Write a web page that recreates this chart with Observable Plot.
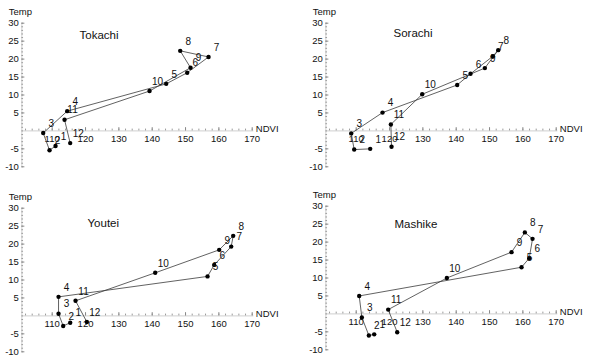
<!DOCTYPE html>
<html>
<head>
<meta charset="utf-8">
<script src="https://cdn.jsdelivr.net/npm/d3@7"></script>
<script src="https://cdn.jsdelivr.net/npm/@observablehq/plot@0.6"></script>
<style>
  html, body { margin: 0; padding: 0; background: #fff; }
  #chart { position: relative; width: 593px; height: 362px; overflow: hidden; }
  #chart svg { position: absolute; overflow: visible; }
</style>
</head>
<body>
<div id="chart"></div>
<script>
// ---- data ----
const months = [1, 2, 3, 4, 5, 6, 7, 8, 9, 10, 11, 12];

const tokachiNDVI = [111.0, 109.2, 107.3, 114.5, 144.2, 150.5, 156.9, 148.4, 151.5, 139.2, 113.7, 115.4];
const tokachiTemp = [-4.2, -5.4, -0.6, 5.5, 13.1, 16.2, 20.6, 22.3, 17.6, 11.1, 3.1, -3.4];

const sorachiNDVI = [114.2, 109.4, 108.5, 117.9, 140.3, 144.3, 151.0, 152.6, 148.6, 129.8, 120.4, 120.6];
const sorachiTemp = [-5.0, -5.2, -0.7, 5.1, 12.8, 15.9, 20.8, 22.5, 17.5, 10.2, 1.8, -4.4];

const youteiNDVI = [115.4, 113.3, 111.9, 111.9, 156.6, 158.6, 163.7, 164.3, 160.1, 140.9, 117.0, 120.4];
const youteiTemp = [-1.9, -2.8, 0.6, 5.3, 11.0, 14.2, 19.3, 22.3, 18.4, 12.0, 4.2, -1.7];

const mashikeNDVI = [115.4, 113.8, 111.7, 110.9, 159.6, 161.9, 162.9, 160.6, 156.6, 137.2, 119.6, 122.3];
const mashikeTemp = [-5.7, -6.0, -1.0, 5.0, 13.0, 15.5, 20.9, 22.7, 17.2, 10.0, 1.2, -5.1];

const regions = ["Tokachi", "Sorachi", "Youtei", "Mashike"];
const xTickLabels = [110, 120, 130, 140, 150, 160, 170];
const yTickLabels = [-10, -5, 5, 10, 15, 20, 25, 30];
const xAxisLabel = "NDVI";
const yAxisLabel = "Temp";

// ---- layout / style ----
const X0 = 100.9, XEND = 170.5;
const xMinor = d3.range(102, 171, 2);
const yMinor = d3.range(-10, 31, 1);
const font = "'Liberation Sans', Arial, sans-serif";

const panels = [
  {name: regions[0], ndvi: tokachiNDVI, temp: tokachiTemp, left: 0,   top: 0,   tx: 79, ty: 35},
  {name: regions[1], ndvi: sorachiNDVI, temp: sorachiTemp, left: 304, top: 0,   tx: 89, ty: 33},
  {name: regions[2], ndvi: youteiNDVI,  temp: youteiTemp,  left: 0,   top: 185, tx: 87, ty: 38},
  {name: regions[3], ndvi: mashikeNDVI, temp: mashikeTemp, left: 304, top: 183, tx: 90, ty: 41}
];

const chart = document.getElementById("chart");

for (const p of panels) {
  const data = months.map((m, i) => ({month: m, ndvi: p.ndvi[i], temp: p.temp[i]}));
  const svg = Plot.plot({
    width: 296,
    height: 181,
    marginTop: 0, marginRight: 0, marginBottom: 0, marginLeft: 0,
    style: {fontFamily: font, fontSize: "9.5px", color: "#222", background: "transparent"},
    x: {domain: [110, 170], range: [51.7, 251.7], axis: null},
    y: {domain: [-10, 30], range: [166.3, 22.7], axis: null},
    marks: [
      // axes lines
      Plot.ruleY([0], {x1: X0, x2: XEND, stroke: "#cfcfcf", strokeWidth: 1}),
      Plot.ruleX([X0], {y1: -10, y2: 30, stroke: "#cfcfcf", strokeWidth: 1}),
      // minor ticks
      Plot.ruleX(xMinor, {x: d => d, y1: 0, y2: 0.5, stroke: "#9a9a9a", strokeWidth: 1}),
      Plot.ruleY(yMinor, {y: d => d, x1: X0, x2: X0 + 0.5, stroke: "#9a9a9a", strokeWidth: 1}),
      // major ticks
      Plot.ruleX(xTickLabels, {x: d => d, y1: 0, y2: 0.9, stroke: "#888", strokeWidth: 1}),
      Plot.ruleY(yTickLabels, {y: d => d, x1: X0, x2: X0 + 0.9, stroke: "#888", strokeWidth: 1}),
      // tick labels
      Plot.text(xTickLabels, {x: d => d, y: 0, dy: 8, text: d => String(d), fill: "#111", fontSize: 9.5}),
      Plot.text(yTickLabels, {x: X0, y: d => d, dx: -3, textAnchor: "end", text: d => String(d), fill: "#111", fontSize: 9.5}),
      // axis labels
      Plot.text([xAxisLabel], {x: XEND, y: 0, dx: 2, dy: -1.5, textAnchor: "start", text: d => d, fill: "#111", fontSize: 9.5}),
      Plot.text([yAxisLabel], {x: X0, y: 30, dy: -11.5, dx: -1.5, text: d => d, fill: "#111", fontSize: 9.5}),
      // data
      Plot.line(data, {x: "ndvi", y: "temp", stroke: "#3a3a3a", strokeWidth: 0.8}),
      Plot.dot(data, {x: "ndvi", y: "temp", r: 2.2, fill: "#000", stroke: "none"}),
      Plot.text(data, {x: "ndvi", y: "temp", text: d => String(d.month), dx: 8, dy: -9.5, fill: "#111", fontSize: 10}),
      // title
      Plot.text([p.name], {frameAnchor: "top-left", lineAnchor: "middle", dx: p.tx, dy: p.ty, textAnchor: "start", text: d => d, fill: "#111", fontSize: 11.5})
    ]
  });
  svg.style.left = p.left + "px";
  svg.style.top = p.top + "px";
  chart.appendChild(svg);
}
</script>
</body>
</html>
